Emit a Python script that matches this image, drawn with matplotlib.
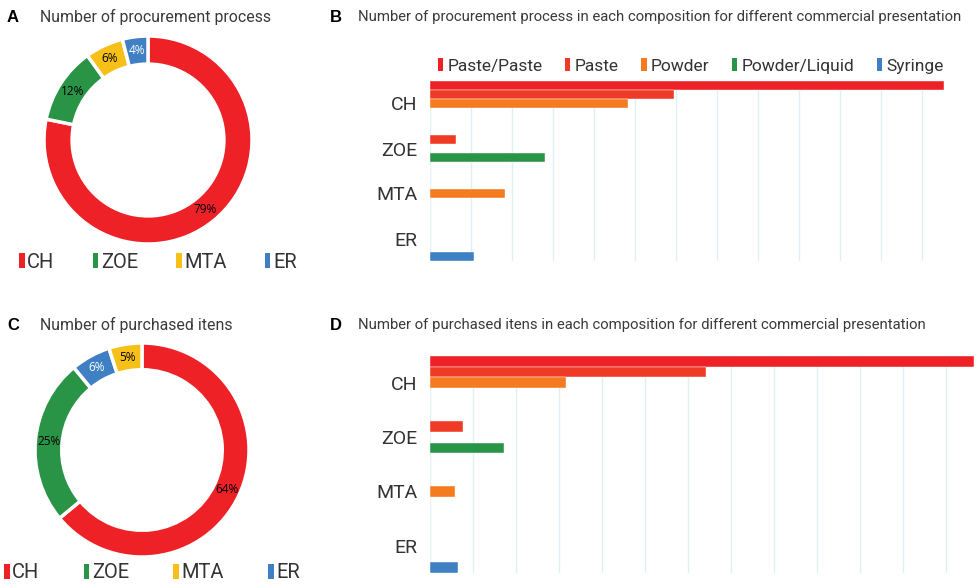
import numpy as np
import matplotlib.pyplot as plt
from matplotlib.patches import Patch

plt.rcParams['font.family'] = ['Roboto', 'DejaVu Sans']

W, H = 977, 585

# ring data (percent labels as printed)
ring_names = ['CH', 'ZOE', 'MTA', 'ER']
ring_colors = {'CH': '#ed2126', 'ZOE': '#2a9446', 'MTA': '#f7c018', 'ER': '#3f7fc3'}
procure_order = ['CH', 'ZOE', 'MTA', 'ER']
procure_pct = [79, 12, 6, 4]
items_order = ['CH', 'ZOE', 'ER', 'MTA']
items_pct = [64, 25, 6, 5]

# bar data (no axis scale shown; values in arbitrary units)
compositions = ['CH', 'ZOE', 'MTA', 'ER']
presentations = ['Paste/Paste', 'Paste', 'Powder', 'Powder/Liquid', 'Syringe']
pres_colors = ['#ed2126', '#ef3b25', '#f47b20', '#2a9446', '#3f7fc3']
procure_bars = {
    'Paste/Paste':   [125.4, 0, 0, 0],
    'Paste':         [59.6, 6.3, 0, 0],
    'Powder':        [48.2, 0, 18.3, 0],
    'Powder/Liquid': [0, 28.1, 0, 0],
    'Syringe':       [0, 0, 0, 10.7],
}
items_bars = {
    'Paste/Paste':   [126.5, 0, 0, 0],
    'Paste':         [64.2, 7.7, 0, 0],
    'Powder':        [31.6, 0, 5.9, 0],
    'Powder/Liquid': [0, 17.2, 0, 0],
    'Syringe':       [0, 0, 0, 6.6],
}

fig = plt.figure(figsize=(W / 100, H / 100), dpi=100)


def box(left, top, right, bottom):
    return [left / W, 1 - bottom / H, (right - left) / W, (bottom - top) / H]


def ring(cx, cy, r, order, pct, width, legend_y, legend_x, colspace):
    ax = fig.add_axes(box(cx - r, cy - r, cx + r, cy + r))
    cols = [ring_colors[n] for n in order]
    wedges, texts = ax.pie(pct, colors=cols, startangle=90, counterclock=False,
                           labels=[f'{p}%' for p in pct], labeldistance=1 - width / 2,
                           wedgeprops=dict(width=width, edgecolor='white', linewidth=2.5),
                           textprops=dict(fontsize=8.5, family=['Open Sans', 'DejaVu Sans']))
    for t, n in zip(texts, order):
        t.set_ha('center')
        t.set_va('center')
        t.set_color('white' if n == 'ER' else 'black')
    ax.set_xlim(-1, 1)
    ax.set_ylim(-1, 1)
    handles = [Patch(facecolor=ring_colors[n], edgecolor='none', label=n) for n in ring_names]
    fig.legend(handles=handles, loc='center left', bbox_to_anchor=(legend_x / W, 1 - legend_y / H),
               ncol=4, frameon=False, fontsize=14.5, handlelength=0.28, handleheight=0.7,
               handletextpad=0.12, columnspacing=colspace, borderpad=0, borderaxespad=0,
               labelcolor='#333333')


def bars(left, top, right, bottom, data):
    ax = fig.add_axes(box(left, top, right, bottom))
    y = np.arange(len(compositions))
    h = 1 / len(presentations)
    for k, name in enumerate(presentations):
        ax.barh(y + (k - 2) * h, data[name], height=h, color=pres_colors[k],
                edgecolor='white', linewidth=0.3, zorder=3, label=name)
    xmax = max(max(v) for v in data.values())
    ax.set_xlim(0, xmax)
    ax.set_ylim(len(compositions) - 0.5, -0.5)
    ax.set_xticks(np.arange(0, xmax, 10))
    ax.set_xticklabels([])
    ax.tick_params(axis='x', length=0)
    ax.tick_params(axis='y', length=0, pad=9, labelsize=14, labelcolor='#333333')
    ax.set_yticks(y)
    ax.set_yticklabels(compositions)
    ax.grid(axis='x', color='#def0f4', linewidth=1, zorder=0)
    for s in ax.spines.values():
        s.set_visible(False)
    return ax


ring(148, 140, 104, procure_order, procure_pct, 0.27, 262, 19, 1.9)
ring(142, 450, 107, items_order, items_pct, 0.25, 573, 4, 2.2)

axB = bars(430, 81, 944, 261, procure_bars)
hB, lB = axB.get_legend_handles_labels()
hB = [Patch(facecolor=c, edgecolor='none') for c in pres_colors]
fig.legend(hB, lB, loc='center left', bbox_to_anchor=(438 / W, 1 - 66 / H), ncol=5,
           frameon=False, fontsize=12.5, handlelength=0.3, handleheight=0.8,
           handletextpad=0.25, columnspacing=1.3, borderpad=0, borderaxespad=0,
           labelcolor='#333333')
bars(430, 355.7, 974, 572.7, items_bars)

label_kw = dict(fontsize=12, fontweight='bold', family=['Liberation Sans', 'DejaVu Sans'],
                va='center', color='black')
title_kw = dict(fontsize=11.4, va='center', color='#3a3a3a')
bar_title_kw = dict(fontsize=10.7, va='center', color='#3a3a3a')
fig.text(7 / W, 1 - 17 / H, 'A', **label_kw)
fig.text(40 / W, 1 - 17 / H, 'Number of procurement process', **title_kw)
fig.text(7 / W, 1 - 325 / H, 'C', **label_kw)
fig.text(40 / W, 1 - 325 / H, 'Number of purchased itens', **title_kw)
fig.text(330 / W, 1 - 17 / H, 'B', **label_kw)
fig.text(358 / W, 1 - 17 / H,
         'Number of procurement process in each composition for different commercial presentation',
         **bar_title_kw)
fig.text(330 / W, 1 - 325 / H, 'D', **label_kw)
fig.text(358 / W, 1 - 325 / H,
         'Number of purchased itens in each composition for different commercial presentation',
         **bar_title_kw)

fig.savefig('out.png', dpi=100)
